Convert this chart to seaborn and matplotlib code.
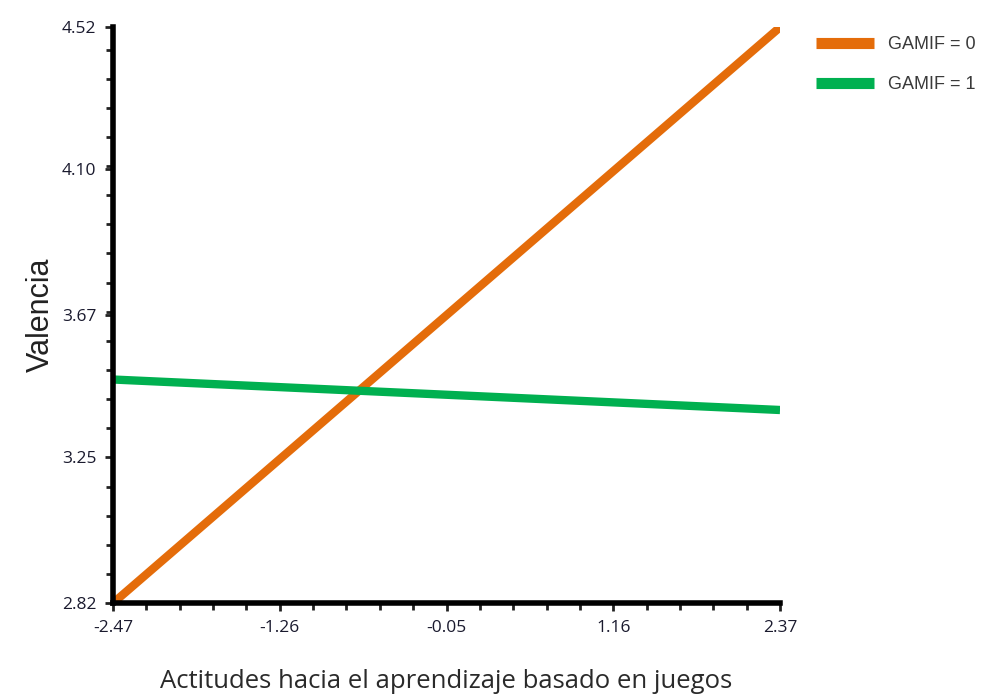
import matplotlib
matplotlib.use("Agg")
import matplotlib.pyplot as plt
from matplotlib.ticker import FixedLocator, MultipleLocator
import seaborn as sns
import pandas as pd

# Simple slopes: predicted Valencia at the ends of the attitude range
x_ends = [-2.47, 2.37]
valencia_gamif0 = [2.82, 4.52]
valencia_gamif1 = [3.48, 3.39]
group_labels = ["GAMIF = 0", "GAMIF = 1"]
line_colors = ["#E46C0A", "#00B050"]

x_ticks = [-2.47, -1.26, -0.05, 1.16, 2.37]
y_ticks = [2.82, 3.25, 3.67, 4.10, 4.52]
x_tick_labels = ["-2.47", "-1.26", "-0.05", "1.16", "2.37"]
y_tick_labels = ["2.82", "3.25", "3.67", "4.10", "4.52"]

df = pd.DataFrame({
    "x": x_ends * 2,
    "valencia": valencia_gamif0 + valencia_gamif1,
    "grupo": [group_labels[0]] * 2 + [group_labels[1]] * 2,
})

sns.set_style("white")
fig = plt.figure(figsize=(9.83, 6.98), dpi=100)
ax = fig.add_axes([0.115, 0.136, 0.6785, 0.825])

sns.lineplot(data=df, x="x", y="valencia", hue="grupo",
             palette=dict(zip(group_labels, line_colors)),
             linewidth=6, ax=ax, legend=True, zorder=3)
for ln in ax.get_lines():
    ln.set_solid_capstyle("butt")

ax.set_xlim(x_ticks[0], x_ticks[-1])
ax.set_ylim(y_ticks[0], y_ticks[-1])

ax.xaxis.set_major_locator(FixedLocator(x_ticks))
ax.yaxis.set_major_locator(FixedLocator(y_ticks))
ax.set_xticklabels(x_tick_labels)
ax.set_yticklabels(y_tick_labels)
ax.xaxis.set_minor_locator(MultipleLocator((x_ticks[1] - x_ticks[0]) / 5, offset=x_ticks[0]))
ax.yaxis.set_minor_locator(MultipleLocator((y_ticks[1] - y_ticks[0]) / 5, offset=y_ticks[0]))

for side in ("top", "right"):
    ax.spines[side].set_visible(False)
for side in ("left", "bottom"):
    ax.spines[side].set_linewidth(4)
    ax.spines[side].set_color("black")
    ax.spines[side].set_zorder(4)

ax.tick_params(axis="both", which="both", direction="out", color="#222222",
               bottom=True, left=True)
ax.tick_params(axis="both", which="major", length=6, width=2,
               labelsize=12.5, labelcolor="#1a1a2e", pad=6)
ax.tick_params(axis="both", which="minor", length=5, width=2)
for lab in ax.get_xticklabels() + ax.get_yticklabels():
    lab.set_fontfamily("Open Sans")

ax.set_xlabel("Actitudes hacia el aprendizaje basado en juegos",
              fontsize=18.5, color="#2a2a2a", family="Open Sans", labelpad=24)
ax.set_ylabel("Valencia", fontsize=22, color="#222222",
              family="Liberation Sans")
ax.yaxis.set_label_coords(-0.085, 0.5)

leg = ax.legend(loc="upper left", bbox_to_anchor=(1.03, 1.013), frameon=False,
                handlelength=3.2, handletextpad=0.8, labelspacing=1.3,
                prop={"family": "Liberation Sans", "size": 13})
for txt in leg.get_texts():
    txt.set_color("#3a3a3a")
for h in leg.get_lines():
    h.set_linewidth(8)
    h.set_solid_capstyle("butt")

fig.savefig("out.png", dpi=100)
